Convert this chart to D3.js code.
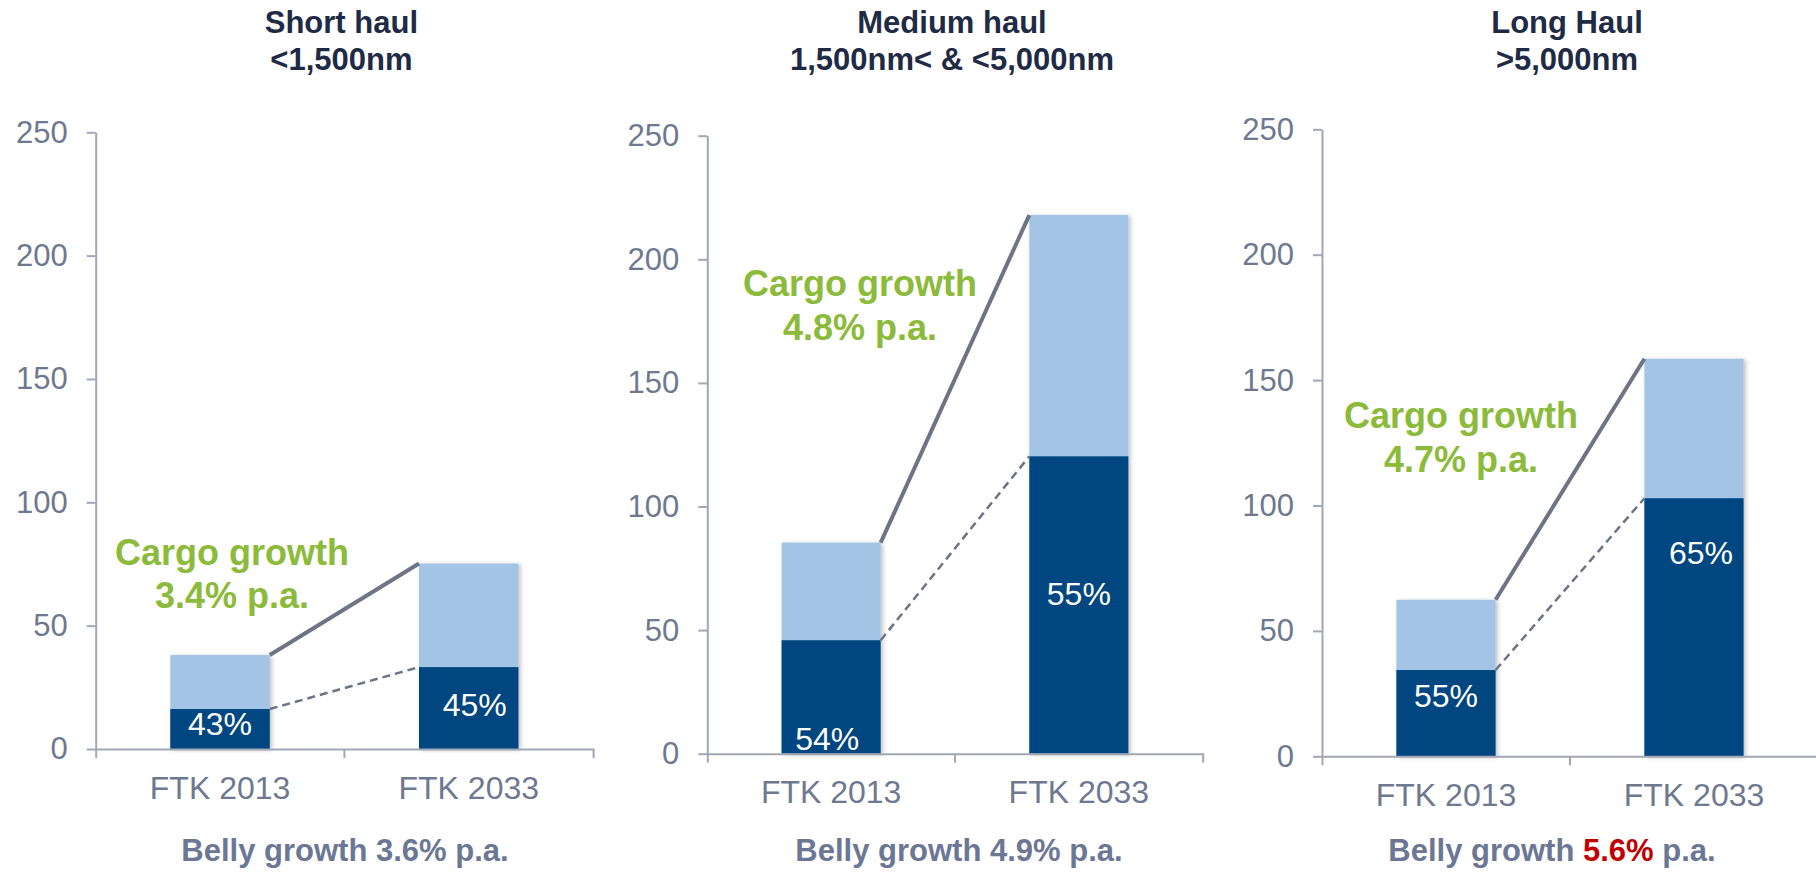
<!DOCTYPE html>
<html><head><meta charset="utf-8">
<script src="https://cdn.jsdelivr.net/npm/d3@7"></script>
<style>
html,body{margin:0;padding:0;background:#fff;}
svg{display:block;font-family:"Liberation Sans",Arial,Helvetica,sans-serif;}
</style></head>
<body>
<svg id="chart" width="1816" height="872"></svg>
<script>
// ---- data ----
const categories = ["FTK 2013", "FTK 2033"];
const titleLine1 = ["Short haul", "Medium haul", "Long Haul"];
const titleLine2 = ["<1,500nm", "1,500nm< & <5,000nm", ">5,000nm"];
const totalFTK = [[38.1, 75.2], [85.4, 217.9], [62.4, 158.5]];
const bellyFTK = [[16.2, 33.2], [45.9, 120.3], [34.4, 102.9]];
const bellyShare = [["43%", "45%"], ["54%", "55%"], ["55%", "65%"]];
const shareLabelAt = [[5.7, 13.4], [1.5, 60.2], [19.5, 76.7]]; // value where label baseline sits
const cargoGrowth = ["3.4% p.a.", "4.8% p.a.", "4.7% p.a."];
const bellyGrowth = ["3.6%", "4.9%", "5.6%"];
const yTicks = [0, 50, 100, 150, 200, 250];

// ---- layout ----
const layout = [
  {x0: 95.7, w: 497.4, yb: 749, yt: 132.3, cargo: [232, 565, 608], belly: 345, shareDx: [0, 6]},
  {x0: 707.3, w: 495.4, yb: 753.7, yt: 135.7, cargo: [860, 296, 340], belly: 959, shareDx: [-4, 0]},
  {x0: 1322, w: 496, yb: 756.3, yt: 129.3, cargo: [1461, 428, 472], belly: 1552, shareDx: [0, 7]}
];
const C = {
  light: "#A3C4E5", dark: "#004680", axis: "#A2A7B5", tick: "#6E7990",
  title: "#1F2B45", green: "#8CBA3A", belly: "#6B7794", red: "#C00000", line: "#6E7486"
};

const svg = d3.select("#chart");
const defs = svg.append("defs");
const f = defs.append("filter").attr("id", "sh").attr("x", "-10%").attr("y", "-10%").attr("width", "130%").attr("height", "130%");
f.append("feDropShadow").attr("dx", 2).attr("dy", 1).attr("stdDeviation", 2).attr("flood-color", "#000").attr("flood-opacity", 0.25);

layout.forEach((L, i) => {
  const g = svg.append("g");
  const x = d3.scaleBand().domain(categories).range([L.x0, L.x0 + L.w]).paddingInner(0.6).paddingOuter(0.3);
  const xb = d3.scaleBand().domain(categories).range([L.x0, L.x0 + L.w]);
  const y = d3.scaleLinear().domain([0, 250]).range([L.yb, L.yt]);

  // title
  const cx = L.x0 + L.w / 2;
  g.append("text").attr("x", cx - 3).attr("y", 33).attr("text-anchor", "middle")
    .attr("font-size", 31).attr("font-weight", "bold").attr("fill", C.title).text(titleLine1[i]);
  g.append("text").attr("x", cx - 3).attr("y", 70).attr("text-anchor", "middle")
    .attr("font-size", 31).attr("font-weight", "bold").attr("fill", C.title).text(titleLine2[i]);

  // y axis
  const ya = g.append("g").attr("transform", `translate(${L.x0},0)`)
    .call(d3.axisLeft(y).tickValues(yTicks).tickSize(9).tickSizeOuter(0).tickPadding(19));
  ya.select(".domain").attr("stroke", C.axis).attr("stroke-width", 2);
  ya.selectAll(".tick line").attr("stroke", C.axis).attr("stroke-width", 2);
  ya.selectAll(".tick text").attr("fill", C.tick).attr("font-size", 31).attr("font-family", "Liberation Sans, Arial, sans-serif");

  // bars
  const bars = g.append("g");
  categories.forEach((c, j) => {
    bars.append("rect").attr("x", x(c)).attr("width", x.bandwidth())
      .attr("y", y(totalFTK[i][j])).attr("height", y(0) - y(totalFTK[i][j]))
      .attr("fill", C.light).attr("filter", "url(#sh)");
    bars.append("rect").attr("x", x(c)).attr("width", x.bandwidth())
      .attr("y", y(bellyFTK[i][j])).attr("height", y(0) - y(bellyFTK[i][j]))
      .attr("fill", C.dark);
    bars.append("text").attr("x", x(c) + x.bandwidth() / 2 + L.shareDx[j]).attr("y", y(shareLabelAt[i][j]))
      .attr("text-anchor", "middle").attr("font-size", 32).attr("fill", "#fff").text(bellyShare[i][j]);
  });

  // x axis
  const xa = g.append("g").attr("transform", `translate(0,${L.yb})`)
    .call(d3.axisBottom(xb).tickSizeInner(0).tickSizeOuter(9).tickPadding(27));
  xa.select(".domain").attr("stroke", C.axis).attr("stroke-width", 2);
  xa.selectAll(".tick text").attr("fill", C.tick).attr("font-size", 32).attr("font-family", "Liberation Sans, Arial, sans-serif");
  g.append("line").attr("x1", xb(categories[1])).attr("x2", xb(categories[1]))
    .attr("y1", L.yb).attr("y2", L.yb + 9).attr("stroke", C.axis).attr("stroke-width", 2);

  // growth connectors
  const xr = x(categories[0]) + x.bandwidth(), xl = x(categories[1]);
  g.append("line").attr("x1", xr).attr("y1", y(totalFTK[i][0])).attr("x2", xl).attr("y2", y(totalFTK[i][1]))
    .attr("stroke", C.line).attr("stroke-width", 4);
  g.append("line").attr("x1", xr).attr("y1", y(bellyFTK[i][0])).attr("x2", xl).attr("y2", y(bellyFTK[i][1]))
    .attr("stroke", C.line).attr("stroke-width", 2.5).attr("stroke-dasharray", "8,5");

  // cargo growth label
  g.append("text").attr("x", L.cargo[0]).attr("y", L.cargo[1]).attr("text-anchor", "middle")
    .attr("font-size", 36).attr("font-weight", "bold").attr("fill", C.green).text("Cargo growth");
  g.append("text").attr("x", L.cargo[0]).attr("y", L.cargo[2]).attr("text-anchor", "middle")
    .attr("font-size", 36).attr("font-weight", "bold").attr("fill", C.green).text(cargoGrowth[i]);

  // belly growth
  const bt = g.append("text").attr("x", L.belly).attr("y", 861).attr("text-anchor", "middle")
    .attr("font-size", 31).attr("font-weight", "bold").attr("fill", C.belly);
  bt.append("tspan").text("Belly growth ");
  bt.append("tspan").attr("fill", i === 2 ? C.red : C.belly).text(bellyGrowth[i]);
  bt.append("tspan").text(" p.a.");
});
</script>
</body></html>
